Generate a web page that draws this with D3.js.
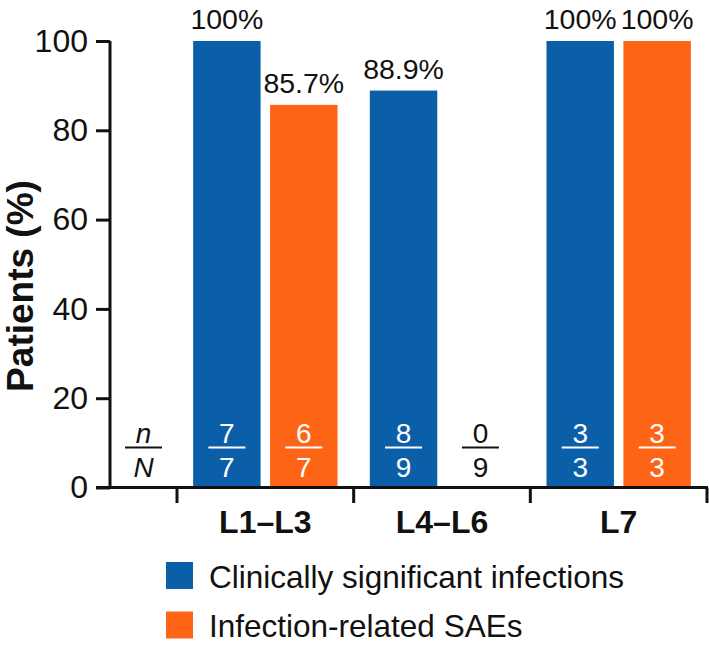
<!DOCTYPE html>
<html>
<head>
<meta charset="utf-8">
<script src="https://cdn.jsdelivr.net/npm/d3@7"></script>
<style>
  html, body { margin: 0; padding: 0; background: #fff; }
  svg { display: block; font-family: "Liberation Sans", Arial, Helvetica, sans-serif; }
</style>
</head>
<body>
<svg id="chart" width="709" height="648"></svg>
<script>
// ---- data ----
const groups = ["L1–L3", "L4–L6", "L7"];
const seriesNames = ["Clinically significant infections", "Infection-related SAEs"];
const seriesKeys = ["csi", "sae"];
const csiValues = [100, 88.9, 100];
const saeValues = [85.7, 0, 100];
const csiN = [7, 8, 3];
const saeN = [6, 0, 3];
const totalN = [7, 9, 3];
const yTicks = [0, 20, 40, 60, 80, 100];
const colors = ["#0b5ea8", "#fe6416"];

const rows = groups.map((g, i) => ({
  group: g,
  values: [
    { key: "csi", value: csiValues[i], n: csiN[i], N: totalN[i] },
    { key: "sae", value: saeValues[i], n: saeN[i], N: totalN[i] }
  ]
}));

const svg = d3.select("#chart");

const y = d3.scaleLinear().domain([0, 100]).range([487.5, 41]);
const x0 = d3.scaleBand().domain(groups).range([177, 707]).paddingInner(0).paddingOuter(0);
const x1 = d3.scaleBand().domain(seriesKeys).range([0, x0.bandwidth()]).paddingInner(0.123).paddingOuter(0.21);
const color = d3.scaleOrdinal().domain(seriesKeys).range(colors);

const axisX = 110;

// bars
const g = svg.append("g");
const grp = g.selectAll("g.grp").data(rows).join("g")
  .attr("class", "grp")
  .attr("transform", d => `translate(${x0(d.group)},0)`);

grp.selectAll("rect").data(d => d.values.filter(v => v.value > 0)).join("rect")
  .attr("x", d => x1(d.key))
  .attr("y", d => y(d.value))
  .attr("width", x1.bandwidth())
  .attr("height", d => y(0) - y(d.value))
  .attr("fill", d => color(d.key));

// percentage labels
grp.selectAll("text.pct").data(d => d.values.filter(v => v.value > 0)).join("text")
  .attr("class", "pct")
  .attr("x", d => x1(d.key) + x1.bandwidth() / 2)
  .attr("y", d => y(d.value) - 12)
  .attr("text-anchor", "middle")
  .attr("font-size", 28.5)
  .attr("fill", "#111")
  .text(d => (d.value === 100 ? "100" : d.value.toFixed(1)) + "%");

// fraction labels
function fraction(sel, cx, num, den, fill, italic) {
  const f = sel.append("g");
  f.append("text").attr("x", cx).attr("y", 443).attr("text-anchor", "middle")
    .attr("font-size", 28).attr("fill", fill)
    .attr("font-style", italic ? "italic" : null).text(num);
  f.append("line").attr("x1", cx - 18.5).attr("x2", cx + 18.5)
    .attr("y1", 447.5).attr("y2", 447.5)
    .attr("stroke", fill).attr("stroke-width", 2);
  f.append("text").attr("x", cx).attr("y", 477).attr("text-anchor", "middle")
    .attr("font-size", 28).attr("fill", fill)
    .attr("font-style", italic ? "italic" : null).text(den);
}
rows.forEach(r => {
  r.values.forEach(v => {
    const cx = x0(r.group) + x1(v.key) + x1.bandwidth() / 2;
    fraction(svg, cx, String(v.n), String(v.N), v.value > 0 ? "#fff" : "#111", false);
  });
});
fraction(svg, (axisX + x0(groups[0])) / 2, "n", "N", "#111", true);

// y axis
const yAxis = svg.append("g").attr("transform", `translate(${axisX},0)`)
  .call(d3.axisLeft(y).tickValues(yTicks).tickSize(14).tickPadding(8));
yAxis.select(".domain").attr("stroke", "#111").attr("stroke-width", 3)
  .attr("d", `M0,${y(100)}V${y(0)}`);
yAxis.selectAll(".tick line").attr("stroke", "#111").attr("stroke-width", 3);
yAxis.selectAll(".tick text").attr("font-size", 32).attr("fill", "#111")
  .attr("font-family", "Liberation Sans, Arial, sans-serif");

// x axis
const xAxis = svg.append("g").attr("transform", `translate(0,${y(0)})`)
  .call(d3.axisBottom(x0).tickSize(0).tickPadding(0));
xAxis.select(".domain").attr("stroke", "#111").attr("stroke-width", 3)
  .attr("d", `M96,0H708`);
xAxis.selectAll(".tick line").remove();
xAxis.selectAll(".tick text").attr("y", 45.5).attr("dy", null)
  .attr("font-size", 32).attr("font-weight", "bold").attr("fill", "#111")
  .attr("font-family", "Liberation Sans, Arial, sans-serif");
// group boundary ticks
const bounds = groups.map(gname => x0(gname)).concat([x0(groups[groups.length - 1]) + x0.bandwidth()]);
xAxis.selectAll("line.bound").data(bounds).join("line")
  .attr("class", "bound")
  .attr("x1", d => Math.min(d, 707)).attr("x2", d => Math.min(d, 707))
  .attr("y1", 0).attr("y2", 15.5)
  .attr("stroke", "#111").attr("stroke-width", 3);

// y title
svg.append("text")
  .attr("transform", "translate(33,286) rotate(-90)")
  .attr("text-anchor", "middle")
  .attr("font-size", 37).attr("font-weight", "bold").attr("fill", "#111")
  .text("Patients (%)");

// legend
const legend = svg.append("g");
seriesKeys.forEach((k, i) => {
  const yy = 562 + i * 49.5;
  legend.append("rect").attr("x", 166).attr("y", yy).attr("width", 27).attr("height", 27)
    .attr("fill", color(k));
  legend.append("text").attr("x", 209).attr("y", yy + 25.5)
    .attr("font-size", 31.5).attr("fill", "#111").text(seriesNames[i]);
});
</script>
</body>
</html>
